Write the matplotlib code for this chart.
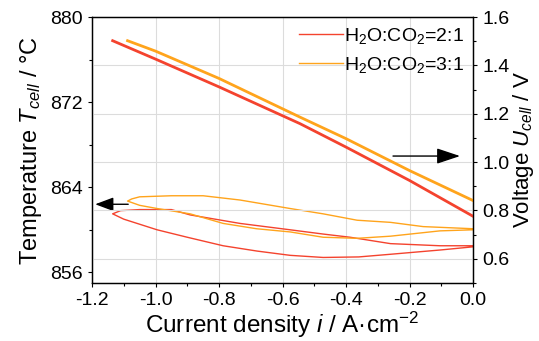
import numpy as np
import matplotlib
matplotlib.use('Agg')
import matplotlib.pyplot as plt
from matplotlib.ticker import MultipleLocator

plt.rcParams['font.family'] = ['Liberation Sans', 'DejaVu Sans']
plt.rcParams['mathtext.fontset'] = 'custom'
plt.rcParams['mathtext.rm'] = 'Liberation Sans'
plt.rcParams['mathtext.it'] = 'Liberation Sans:italic'
plt.rcParams['axes.unicode_minus'] = False

# voltage (right axis)
v21_i = [-1.135, -1.0, -0.8, -0.545, -0.4, -0.2, 0.0]
v21_u = [1.502, 1.426, 1.311, 1.159, 1.062, 0.924, 0.776]
v31_i = [-1.088, -1.0, -0.8, -0.545, -0.4, -0.2, 0.0]
v31_u = [1.502, 1.459, 1.346, 1.186, 1.097, 0.965, 0.841]

# cell temperature loops (left axis)
t21_i = [0.0, -0.104, -0.26, -0.387, -0.472, -0.576, -0.734, -0.891, -0.95, -1.05,
         -1.11, -1.135, -1.10, -0.995, -0.9, -0.787, -0.68, -0.576, -0.472, -0.36,
         -0.26, -0.104, 0.0]
t21_t = [858.5, 858.5, 858.7, 859.3, 859.6, 860.0, 860.6, 861.4, 861.9, 861.9,
         861.8, 861.5, 861.0, 860.0, 859.3, 858.5, 858.0, 857.6, 857.4, 857.45,
         857.7, 858.1, 858.4]
t31_i = [0.0, -0.157, -0.26, -0.365, -0.472, -0.576, -0.734, -0.85, -0.95, -1.05,
         -1.075, -1.088, -1.05, -0.995, -0.891, -0.787, -0.682, -0.576, -0.472, -0.365,
         -0.26, -0.104, 0.0]
t31_t = [860.1, 860.3, 860.7, 860.9, 861.5, 862.0, 862.8, 863.2, 863.2, 863.1,
         862.9, 862.7, 862.3, 862.0, 861.5, 860.6, 860.1, 859.8, 859.3, 859.2,
         859.4, 859.9, 860.0]

red = '#f4432e'
orange = '#ffa41c'

fig = plt.figure(figsize=(5.39, 3.41), dpi=100)
ax = fig.add_axes([0.1707, 0.1701, 0.7069, 0.78])
ax2 = ax.twinx()

ax.plot(t21_i, t21_t, color=red, lw=1.0)
ax.plot(t31_i, t31_t, color=orange, lw=1.0)
ax2.plot(v21_i, v21_u, color=red, lw=2.0)
ax2.plot(v31_i, v31_u, color=orange, lw=2.0)

ax.set_xlim(-1.2, 0.0)
ax.set_ylim(855, 880)
ax2.set_ylim(0.5, 1.6)

ax.xaxis.set_major_locator(MultipleLocator(0.2))
ax.xaxis.set_minor_locator(MultipleLocator(0.1))
ax.yaxis.set_major_locator(MultipleLocator(8))
ax.yaxis.set_minor_locator(MultipleLocator(4))
ax2.yaxis.set_major_locator(MultipleLocator(0.2))
ax2.yaxis.set_minor_locator(MultipleLocator(0.1))
ax.xaxis.set_major_formatter(plt.FuncFormatter(lambda v, p: f'{v:.1f}'))
ax2.yaxis.set_major_formatter(plt.FuncFormatter(lambda v, p: f'{v:.1f}'))

ax.grid(axis='x', color='#dcdcdc', lw=0.8)
ax2.grid(axis='y', color='#dcdcdc', lw=0.8)
ax.set_axisbelow(True)
ax2.set_axisbelow(True)

for a in (ax, ax2):
    a.tick_params(which='major', direction='out', length=3.2, width=0.8, labelsize=14)
    a.tick_params(which='minor', direction='out', length=2.2, width=0.8)
    for s in a.spines.values():
        s.set_linewidth(0.9)
ax.tick_params(axis='x', pad=3)

ax.set_xlabel('Current density $i$ / A·cm$^{-2}$', fontsize=17.5, labelpad=1)
ax.set_ylabel('Temperature $T_{cell}$ / °C', fontsize=17, labelpad=4)
ax2.set_ylabel('Voltage $U_{cell}$ / V', fontsize=16, labelpad=1)

ax.annotate('', xy=(-1.19, 862.4), xytext=(-1.086, 862.4),
            arrowprops=dict(arrowstyle='-|>,head_length=0.8,head_width=0.3',
                            color='black', lw=1.0, shrinkA=0, shrinkB=0,
                            mutation_scale=14))
ax2.annotate('', xy=(-0.041, 1.025), xytext=(-0.252, 1.025),
             arrowprops=dict(arrowstyle='-|>,head_length=0.9,head_width=0.3',
                             color='black', lw=1.0, shrinkA=0, shrinkB=0,
                             mutation_scale=16))

h1, = ax.plot([], [], color=red, lw=1.0, label='H$_2$O:CO$_2$=2:1')
h2, = ax.plot([], [], color=orange, lw=1.0, label='H$_2$O:CO$_2$=3:1')
ax2.legend(handles=[h1, h2], loc='upper right', frameon=False, fontsize=14,
           handlelength=2.3, handletextpad=0.05, labelspacing=0.45,
           borderaxespad=0.3, borderpad=0.15)

fig.savefig('out.png', dpi=100)
